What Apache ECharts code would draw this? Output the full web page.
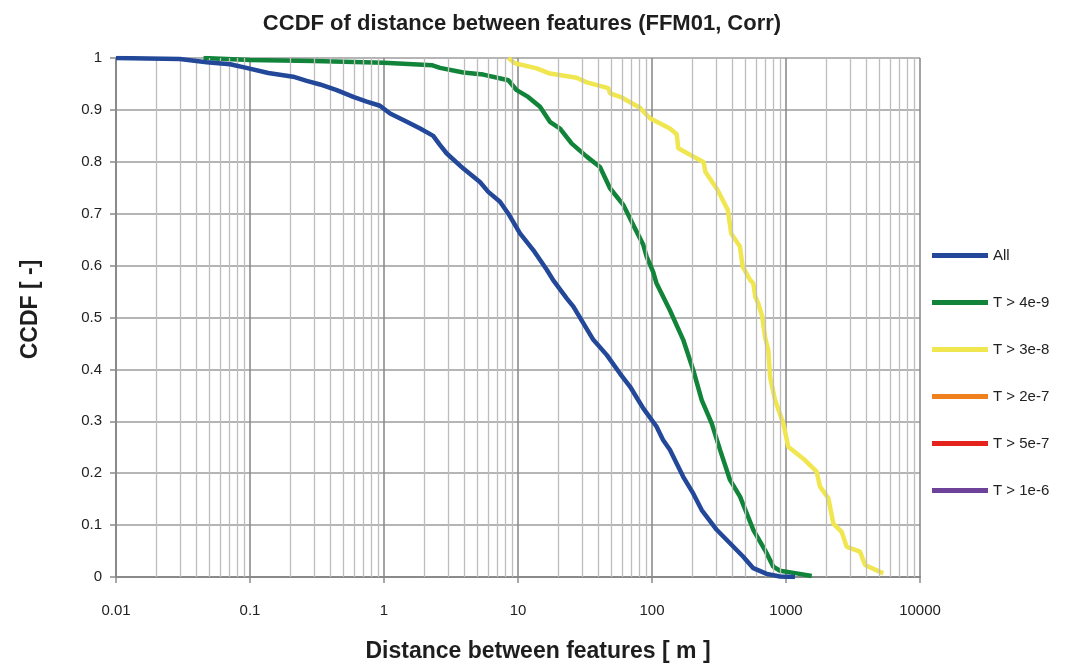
<!DOCTYPE html>
<html>
<head>
<meta charset="utf-8">
<script src="https://cdn.jsdelivr.net/npm/echarts@6/dist/echarts.min.js"></script>
<style>
  html, body { margin: 0; padding: 0; background: #fff; }
  #chart { width: 1068px; height: 668px; }
</style>
</head>
<body>
<div id="chart"></div>
<script>
// Empirical CCDF of distance between features, one curve per transmissivity threshold.
// Each point: [distance in m, CCDF]
const seriesNames = ['All', 'T > 4e-9', 'T > 3e-8', 'T > 2e-7', 'T > 5e-7', 'T > 1e-6'];
const seriesColors = ['#234899', '#12843a', '#f0e650', '#f0801e', '#e4241c', '#6f4299'];

const ccdfAll = [
  [0.01, 1.0], [0.03, 0.998], [0.0475, 0.992], [0.071, 0.988], [0.094, 0.981],
  [0.137, 0.971], [0.21, 0.964], [0.265, 0.956], [0.333, 0.949], [0.444, 0.938],
  [0.59, 0.925], [0.743, 0.916], [0.933, 0.908], [1.11, 0.893], [1.48, 0.877],
  [1.86, 0.864], [2.33, 0.85], [2.62, 0.832], [2.94, 0.816], [3.91, 0.787],
  [5.2, 0.761], [6.0, 0.742], [7.34, 0.723], [8.47, 0.7], [10.35, 0.662],
  [13.0, 0.63], [16.4, 0.592], [18.3, 0.572], [23.1, 0.537], [25.9, 0.521],
  [36.5, 0.457], [45.9, 0.428], [57.7, 0.392], [68.5, 0.367], [86.1, 0.325],
  [108, 0.29], [121, 0.264], [136, 0.245], [171, 0.193], [203, 0.161],
  [235, 0.129], [304, 0.091], [382, 0.065], [480, 0.039], [570, 0.017],
  [718, 0.006], [902, 0.001], [1167, 0.0]
];

const ccdfT4e9 = [
  [0.045, 1.0], [0.1, 0.996], [0.3, 0.994], [1.0, 0.991], [2.3, 0.986],
  [2.62, 0.981], [3.91, 0.972], [5.51, 0.968], [8.47, 0.957], [9.78, 0.938],
  [11.9, 0.925], [14.6, 0.906], [17.3, 0.877], [20.6, 0.864], [25.2, 0.835],
  [32.6, 0.81], [40.9, 0.79], [48.6, 0.749], [61.1, 0.717], [72.5, 0.678],
  [86.1, 0.64], [91.3, 0.617], [102, 0.588], [108, 0.566], [136, 0.514],
  [171, 0.457], [203, 0.399], [235, 0.341], [279, 0.296], [322, 0.245],
  [382, 0.187], [454, 0.155], [570, 0.091], [697, 0.052], [804, 0.02],
  [902, 0.012], [1202, 0.007], [1556, 0.002]
];

const ccdfT3e8 = [
  [8.47, 1.0], [9.5, 0.99], [13.8, 0.98], [17.3, 0.97], [27.4, 0.962],
  [32.6, 0.953], [47.2, 0.942], [48.6, 0.932], [59.4, 0.924], [81.3, 0.904],
  [96.6, 0.884], [136, 0.864], [153, 0.853], [157, 0.826], [243, 0.799],
  [250, 0.781], [308, 0.746], [368, 0.707], [390, 0.662], [453, 0.637],
  [475, 0.598], [541, 0.572], [570, 0.566], [590, 0.54], [621, 0.527],
  [664, 0.502], [697, 0.463], [738, 0.437], [760, 0.386], [828, 0.341],
  [955, 0.296], [1040, 0.251], [1346, 0.228], [1694, 0.203], [1794, 0.174],
  [2070, 0.152], [2255, 0.103], [2604, 0.087], [2838, 0.058], [3566, 0.049],
  [3890, 0.023], [5322, 0.007]
];

const ccdfT2e7 = [];
const ccdfT5e7 = [];
const ccdfT1e6 = [];

const seriesData = [ccdfAll, ccdfT4e9, ccdfT3e8, ccdfT2e7, ccdfT5e7, ccdfT1e6];

// Intermediate gridline positions within each decade (2..9 x 10^k)
const minorGridValues = [];
[0.01, 0.1, 1, 10, 100, 1000].forEach(function (d) {
  for (let k = 2; k <= 9; k++) minorGridValues.push(+(k * d).toPrecision(3));
});

const chart = echarts.init(document.getElementById('chart'), null, { renderer: 'canvas' });

const FONT = 'Liberation Sans, Arial, sans-serif';

const lineSeries = seriesNames.map(function (name, i) {
  return {
    name: name,
    type: 'line',
    data: seriesData[i],
    showSymbol: false,
    symbol: 'none',
    smooth: false,
    z: i === 0 ? 5 : 4,
    lineStyle: { color: seriesColors[i], width: 4.5 },
    itemStyle: { color: seriesColors[i] },
    animation: false
  };
});

// Helper series holding the minor vertical gridlines
const minorGridSeries = {
  name: '__minorGrid',
  type: 'line',
  data: [],
  z: 1,
  silent: true,
  animation: false,
  markLine: {
    silent: true,
    symbol: ['none', 'none'],
    label: { show: false },
    lineStyle: { color: '#bdbdbd', width: 1.3, type: 'solid' },
    animation: false,
    data: minorGridValues.map(function (v) { return { xAxis: v }; })
  }
};

chart.setOption({
  animation: false,
  backgroundColor: '#ffffff',
  title: {
    text: 'CCDF of distance between features (FFM01, Corr)',
    left: 517,
    textAlign: 'center',
    top: 8,
    textStyle: { fontFamily: FONT, fontSize: 22, fontWeight: 'bold', color: '#1e1e1e' }
  },
  legend: {
    orient: 'vertical',
    left: 932,
    top: 248,
    padding: 0,
    itemWidth: 56,
    itemHeight: 5,
    itemGap: 32,
    icon: 'rect',
    data: seriesNames,
    selectedMode: false,
    textStyle: { fontFamily: FONT, fontSize: 15, color: '#222' }
  },
  grid: { left: 116, right: 148, top: 58, bottom: 91, containLabel: false },
  xAxis: {
    type: 'log',
    logBase: 10,
    min: 0.01,
    max: 10000,
    name: 'Distance between features [ m ]',
    nameLocation: 'middle',
    nameGap: 63,
    nameTextStyle: {
      fontFamily: FONT, fontSize: 23, fontWeight: 'bold', color: '#1e1e1e',
      padding: [0, 0, 0, 40]
    },
    axisLine: { show: true, lineStyle: { color: '#8a8a8a', width: 2 } },
    axisTick: { show: true, length: 6, lineStyle: { color: '#8a8a8a', width: 1.5 } },
    axisLabel: {
      margin: 26,
      fontFamily: FONT, fontSize: 15, color: '#222',
      formatter: function (v) { return String(+v.toPrecision(6)); }
    },
    splitLine: { show: true, lineStyle: { color: '#8c8c8c', width: 1.6 } }
  },
  yAxis: {
    type: 'value',
    min: 0,
    max: 1,
    interval: 0.1,
    name: 'CCDF [ -]',
    nameLocation: 'middle',
    nameGap: 74,
    nameTextStyle: {
      fontFamily: FONT, fontSize: 23, fontWeight: 'bold', color: '#1e1e1e',
      padding: [0, 0, 0, 16]
    },
    axisLine: { show: true, lineStyle: { color: '#8a8a8a', width: 2 } },
    axisTick: { show: true, length: 6, lineStyle: { color: '#8a8a8a', width: 1.5 } },
    axisLabel: {
      margin: 14,
      fontFamily: FONT, fontSize: 15, color: '#222',
      formatter: function (v) { return String(+v.toFixed(1)); }
    },
    splitLine: { show: true, lineStyle: { color: '#9c9c9c', width: 1.6 } }
  },
  series: [minorGridSeries].concat(lineSeries)
});
</script>
</body>
</html>
